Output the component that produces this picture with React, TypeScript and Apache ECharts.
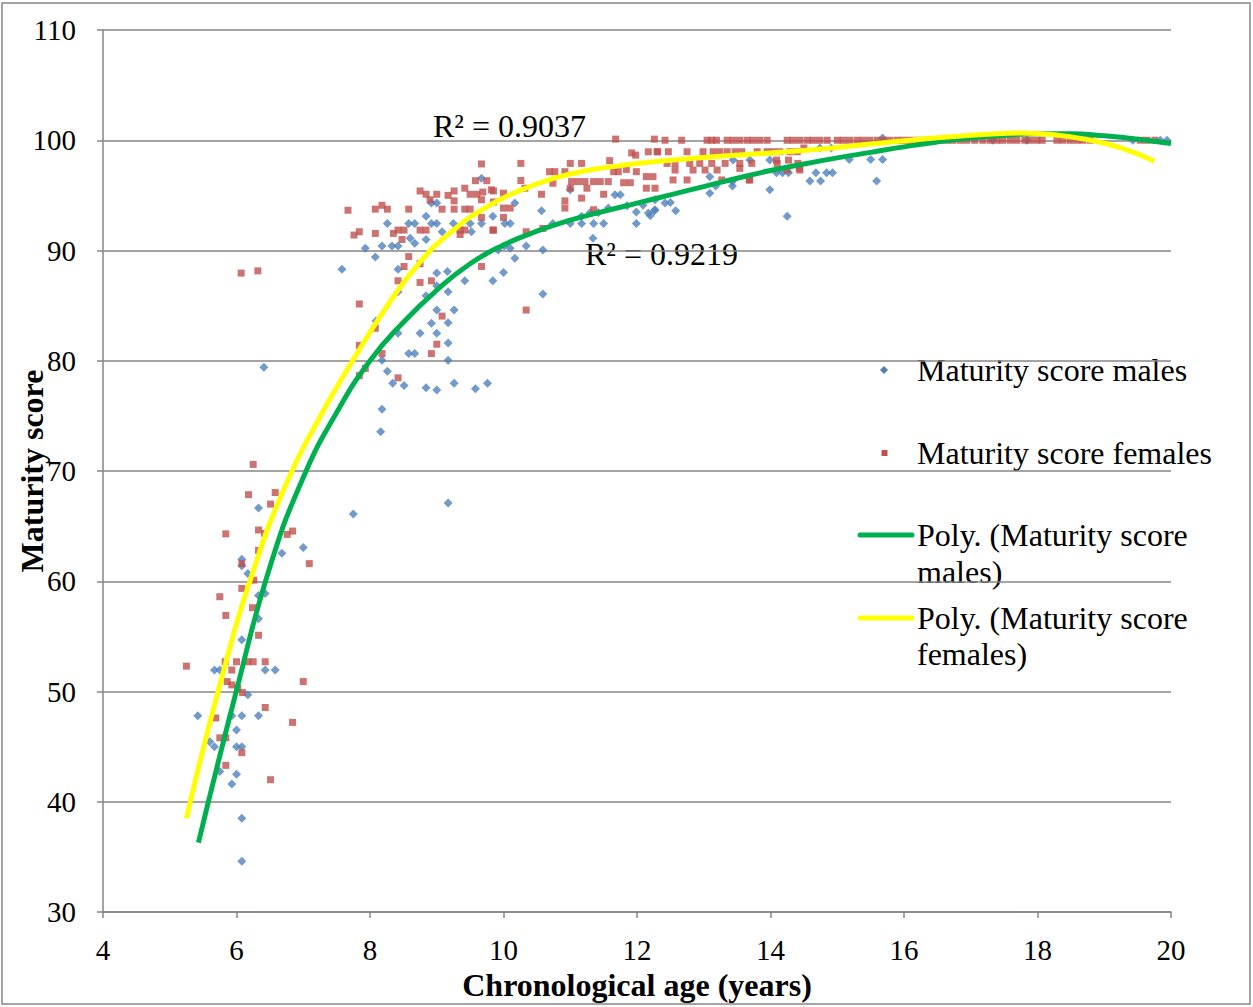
import React, { useEffect, useRef } from "react";
import * as echarts from "echarts";

// Maturity score males: [age, score]
const maleData: number[][] = [
  [6.33, 66.65], [7.0, 63.05], [6.68, 62.55], [6.08, 62.0], [6.08, 61.4], [6.17, 60.7], [6.33, 58.7], [6.43, 58.9],
  [6.33, 56.6], [6.08, 54.7], [5.67, 51.95], [5.75, 51.95], [6.43, 51.95], [6.58, 51.95], [6.17, 49.7], [5.42, 47.8],
  [5.93, 47.8], [6.08, 47.8], [6.33, 47.8], [6.0, 46.5], [5.6, 45.45], [5.67, 45.0], [6.0, 45.0], [6.08, 45.0],
  [5.75, 42.75], [6.0, 42.5], [5.93, 41.6], [6.08, 38.5], [6.08, 34.6], [6.41, 79.4],
  [9.67, 96.55], [9.0, 94.3], [8.92, 94.3], [8.84, 93.1], [8.26, 92.45], [8.58, 92.45], [8.67, 92.45], [8.92, 92.45],
  [9.0, 92.45], [9.25, 92.45], [9.5, 92.45], [9.67, 92.45], [9.84, 93.1], [9.08, 91.7], [9.52, 91.7], [8.6, 91.1],
  [8.84, 91.0], [8.67, 90.65], [7.93, 90.2], [8.18, 90.4], [8.33, 90.4], [8.42, 90.4], [8.08, 89.4], [7.58, 88.3],
  [8.42, 88.3], [9.0, 87.95], [9.16, 88.1], [8.42, 86.25], [8.84, 85.9], [9.0, 86.8], [9.17, 86.25], [9.42, 87.25],
  [9.84, 87.25], [8.09, 83.6], [9.0, 84.6], [9.26, 84.6], [8.92, 83.4], [9.17, 83.45], [8.42, 82.5], [8.75, 82.5],
  [9.0, 82.5], [9.17, 81.6], [8.58, 80.65], [8.67, 80.65], [8.18, 80.05], [9.17, 80.05], [8.26, 79.05], [8.34, 77.95],
  [8.51, 77.75], [8.84, 77.55], [9.0, 77.35], [9.26, 77.95], [9.58, 77.45], [9.76, 77.95], [8.18, 75.6], [8.16, 73.55],
  [7.75, 66.1], [9.17, 67.1],
  [10.17, 94.3], [10.57, 93.6], [11.0, 95.5], [11.67, 95.05], [11.75, 95.05], [11.85, 94.05], [11.99, 93.5], [12.09, 94.1],
  [12.17, 93.4], [12.27, 93.7], [12.27, 94.6], [11.17, 93.1], [11.3, 93.45], [11.42, 93.45], [11.57, 93.85], [12.2, 93.15],
  [10.02, 92.45], [10.1, 92.45], [10.74, 92.45], [11.0, 92.45], [11.17, 92.45], [11.35, 92.45], [11.5, 92.45], [11.99, 92.45],
  [11.34, 91.1], [9.92, 90.05], [10.1, 90.2], [10.34, 90.4], [10.17, 89.3], [10.59, 90.05], [10.0, 88.0], [10.59, 86.05],
  [10.01, 90.4],
  [12.42, 94.3], [12.5, 94.35], [12.58, 93.6], [12.26, 93.6], [13.09, 95.2], [13.18, 95.85], [13.43, 96.25], [13.43, 95.85],
  [13.09, 96.7], [13.99, 95.5], [14.09, 97.05], [14.18, 97.05], [14.27, 97.05], [14.25, 93.1], [14.59, 96.3], [14.68, 97.05],
  [14.75, 96.3], [14.84, 97.05], [14.93, 97.05], [15.18, 98.25], [15.5, 98.25], [15.68, 98.25], [15.59, 96.3], [15.68, 100.2],
  [13.44, 98.2], [13.69, 98.2], [13.99, 98.2], [14.74, 99.3], [14.91, 99.3],
  [17.33, 100], [17.84, 100], [19.43, 100], [19.84, 100], [19.94, 100],
];

// Maturity score females: [age, score]
const femaleData: number[][] = [
  [6.25, 70.6], [6.18, 67.85], [6.58, 68.05], [6.51, 67.0], [5.84, 64.3], [6.33, 64.65], [6.42, 64.35], [6.76, 64.25],
  [6.84, 64.55], [6.33, 62.8], [7.09, 61.6], [6.08, 61.6], [6.26, 60.1], [6.08, 59.35], [5.75, 58.6], [5.84, 56.9],
  [6.24, 57.6], [6.33, 55.1], [5.25, 52.3], [5.83, 52.7], [6.0, 52.7], [6.17, 52.7], [6.25, 52.7], [6.43, 52.7],
  [5.93, 51.95], [5.86, 50.9], [5.93, 50.6], [6.02, 50.3], [6.09, 49.9], [7.0, 50.9], [6.43, 48.55], [6.84, 47.2],
  [5.69, 47.6], [5.75, 45.8], [5.84, 45.8], [6.08, 44.45], [5.84, 43.3], [6.51, 42.0], [6.07, 87.95], [6.32, 88.15],
  [9.67, 97.85], [9.58, 96.33], [9.75, 96.33], [8.75, 95.4], [8.84, 95.1], [9.0, 95.1], [9.17, 95.0], [9.26, 95.4],
  [9.42, 95.65], [9.5, 95.1], [9.6, 95.1], [9.69, 95.3], [9.85, 95.4], [8.9, 94.6], [8.18, 94.1], [8.08, 93.75],
  [8.26, 93.75], [8.58, 93.75], [9.08, 93.75], [9.26, 94.5], [9.26, 93.75], [9.42, 93.75], [9.5, 93.75], [9.67, 94.6],
  [9.67, 93.0], [7.67, 93.65], [7.76, 91.4], [7.84, 91.7], [8.08, 91.55], [8.35, 91.55], [8.42, 91.85], [8.51, 91.85],
  [8.48, 91.0], [8.75, 91.85], [8.84, 91.85], [9.35, 91.45], [9.42, 91.85], [9.35, 91.85], [9.84, 91.85], [8.58, 89.45],
  [8.75, 88.8], [9.67, 88.55],
  [8.51, 88.55], [8.42, 87.25], [8.75, 87.1], [8.92, 87.25], [7.84, 85.15], [9.08, 84.05], [8.08, 82.95], [7.84, 81.4],
  [8.18, 80.65], [9.0, 81.5], [8.92, 80.65], [7.93, 79.3], [7.84, 78.65], [8.42, 78.45],
  [11.68, 100.1], [12.26, 100.1], [10.26, 97.9], [11.0, 97.9], [11.17, 97.9], [11.59, 98.15], [11.98, 98.65], [12.17, 98.95],
  [12.31, 98.95], [10.69, 97.15], [10.77, 97.15], [10.92, 97.15], [11.84, 97.35], [11.99, 97.15], [11.72, 97.15], [11.65, 97.15],
  [10.26, 96.35], [10.74, 96.1], [11.02, 96.25], [11.12, 96.25], [11.22, 96.25], [11.35, 96.25], [11.45, 96.25], [11.57, 96.25],
  [11.8, 96.15], [11.9, 96.15], [12.14, 96.7], [12.24, 96.7], [11.0, 95.65], [11.25, 95.65], [12.14, 95.65], [12.27, 95.65],
  [9.82, 95.5], [10.0, 95.2], [10.32, 95.65], [10.57, 95.1], [11.5, 95.1], [11.17, 94.75], [10.92, 94.5], [9.85, 94.4],
  [10.0, 93.85], [10.1, 93.85], [10.92, 93.85], [10.0, 93.0], [11.35, 93.7], [9.85, 91.85], [10.59, 92.0], [10.34, 91.7],
  [10.34, 84.6], [11.92, 98.85],
  [12.3, 98.96], [12.47, 98.96], [12.75, 98.96], [12.99, 98.96], [13.14, 98.96], [13.24, 98.96], [13.35, 98.96], [13.47, 98.96],
  [13.57, 98.96], [13.8, 98.96], [13.95, 98.96], [14.04, 98.96], [14.14, 98.96], [14.29, 98.96], [14.4, 98.96],
  [12.45, 97.9], [12.57, 97.9], [12.79, 97.9], [12.94, 97.9], [13.12, 97.9], [13.32, 97.9], [13.54, 97.9], [13.72, 97.9],
  [14.1, 97.9], [14.41, 97.9], [12.57, 97.3], [12.84, 97.3], [13.02, 97.3], [13.2, 97.3], [14.25, 97.3], [14.44, 97.3],
  [12.54, 96.4], [12.75, 96.4], [13.27, 96.4], [13.69, 96.4], [13.54, 97.45], [13.68, 96.4], [14.09, 98.2], [14.27, 98.2],
  [14.43, 97.45], [14.5, 99.3],
];

// Females scoring 100: ages
const femaleAt100: number[] = [
  12.42, 12.67, 13.05, 13.12, 13.19, 13.35, 13.44, 13.54, 13.65, 13.74, 13.84, 13.95, 14.25, 14.34, 14.44, 14.55,
  14.64, 14.74, 14.85, 15.0, 15.09, 15.19, 15.3, 15.39, 15.49, 15.6, 15.69, 15.79, 15.9, 15.99, 16.09, 16.21, 16.31,
  16.54, 16.64, 16.73, 16.84, 16.94, 17.06, 17.18, 17.29, 17.39, 17.48, 17.59, 17.69, 17.81, 17.89, 17.99, 18.07,
  18.29, 18.38, 18.49, 18.59, 18.68, 18.79, 19.54, 19.64, 19.76,
];

// Polynomial trend lines
const maleTrend: number[][] = [
  [5.43, 36.3], [6, 50.1], [6.5, 61.3], [7, 69.4], [7.5, 75.3], [8, 80.0], [8.5, 83.5], [9, 86.4], [9.5, 88.8],
  [10, 90.5], [10.5, 91.75], [11, 92.75], [11.5, 93.55], [12, 94.3], [12.5, 95.05], [13, 95.8], [13.5, 96.55],
  [14, 97.25], [14.5, 97.85], [15, 98.4], [15.5, 98.9], [16, 99.4], [16.5, 99.85], [17, 100.2], [17.5, 100.45],
  [18, 100.6], [18.5, 100.6], [19, 100.4], [19.5, 100.1], [20, 99.7],
];
const femaleTrend: number[][] = [
  [5.25, 38.5], [5.75, 50.6], [6.25, 60.9], [6.75, 68.9], [7.25, 74.9], [7.75, 80.1], [8.25, 84.9], [8.75, 88.95],
  [9.25, 91.85], [9.75, 93.95], [10.25, 95.45], [10.75, 96.55], [11.25, 97.25], [11.75, 97.7], [12.25, 98.05],
  [12.75, 98.3], [13.25, 98.55], [13.75, 98.75], [14.25, 98.95], [14.75, 99.2], [15.25, 99.5], [15.75, 99.8],
  [16.25, 100.1], [16.75, 100.35], [17.25, 100.55], [17.75, 100.65], [18.25, 100.5], [18.75, 100.05], [19.25, 99.3],
  [19.75, 98.1],
];

const xTicks = { min: 4, max: 20, interval: 2 };
const yTicks = { min: 30, max: 110, interval: 10 };

const FONT = '"Liberation Serif", "Times New Roman", serif';
const GRAY = "#868686";
const TXT = 32;

export default function App() {
  const ref = useRef<HTMLDivElement>(null);
  useEffect(() => {
    document.body.style.margin = "0";
    if (!ref.current) return;
    const chart = echarts.init(ref.current, null, { renderer: "svg" });
    const females = femaleData.concat(femaleAt100.map((x) => [x, 100]));
    const txt = (x: number, y: number, text: string) => ({
      type: "text",
      x,
      y,
      style: { text, font: `${TXT}px ${FONT}`, fill: "#000", textVerticalAlign: "middle" },
    });
    chart.setOption({
      animation: false,
      backgroundColor: "#ffffff",
      textStyle: { fontFamily: FONT },
      grid: { left: 103, right: 82, top: 30, bottom: 95, containLabel: false, outerBoundsMode: "none" },
      xAxis: {
        type: "value",
        min: xTicks.min,
        max: xTicks.max,
        interval: xTicks.interval,
        axisLine: { show: true, onZero: false, lineStyle: { color: GRAY, width: 1.5 } },
        axisTick: { show: true, length: 6, lineStyle: { color: GRAY, width: 1.5 } },
        axisLabel: { color: "#000", fontSize: 29, margin: 23, fontFamily: FONT },
        splitLine: { show: false },
        name: "Chronological age (years)",
        nameLocation: "middle",
        nameGap: 57,
        nameMoveOverlap: false,
        nameTextStyle: { color: "#000", fontSize: TXT, fontWeight: "bold", fontFamily: FONT },
      },
      yAxis: {
        type: "value",
        min: yTicks.min,
        max: yTicks.max,
        interval: yTicks.interval,
        axisLine: { show: true, lineStyle: { color: GRAY, width: 1.5 } },
        axisTick: { show: true, length: 6, lineStyle: { color: GRAY, width: 1.5 } },
        axisLabel: { color: "#000", fontSize: 29, margin: 27, fontFamily: FONT },
        splitLine: { show: true, lineStyle: { color: GRAY, width: 1.5 } },
        name: "Maturity score",
        nameLocation: "middle",
        nameGap: 55,
        nameRotate: 90,
        nameMoveOverlap: false,
        nameTextStyle: { color: "#000", fontSize: TXT, fontWeight: "bold", fontFamily: FONT },
      },
      series: [
        {
          type: "scatter",
          name: "Maturity score males",
          data: maleData,
          symbol: "diamond",
          symbolSize: 9,
          itemStyle: { color: "#4F81BD" },
        },
        {
          type: "scatter",
          name: "Maturity score females",
          data: females,
          symbol: "rect",
          symbolSize: 7,
          itemStyle: { color: "#C0504D" },
        },
        {
          type: "line",
          name: "Poly. (Maturity score males)",
          data: maleTrend,
          smooth: 0.5,
          symbol: "none",
          lineStyle: { color: "#00B050", width: 5 },
        },
        {
          type: "line",
          name: "Poly. (Maturity score females)",
          data: femaleTrend,
          smooth: 0.5,
          symbol: "none",
          lineStyle: { color: "#FFFF00", width: 5 },
        },
      ],
      graphic: [
        {
          type: "rect",
          shape: { x: 2, y: 3, width: 1248, height: 1001 },
          style: { fill: "none", stroke: GRAY, lineWidth: 1.5 },
          silent: true,
        },
        txt(433, 126, "R² = 0.9037"),
        txt(585, 254, "R² = 0.9219"),
        {
          type: "polygon",
          shape: { points: [[884, 366], [888, 370], [884, 374], [880, 370]] },
          style: { fill: "#4F81BD" },
        },
        txt(917, 370, "Maturity score males"),
        {
          type: "rect",
          shape: { x: 881.5, y: 450, width: 6, height: 6 },
          style: { fill: "#C0504D" },
        },
        txt(917, 453, "Maturity score females"),
        {
          type: "line",
          shape: { x1: 860, y1: 535, x2: 912, y2: 535 },
          style: { stroke: "#00B050", lineWidth: 5, lineCap: "round" },
        },
        txt(917, 535, "Poly. (Maturity score"),
        txt(917, 572, "males)"),
        {
          type: "line",
          shape: { x1: 860, y1: 618, x2: 912, y2: 618 },
          style: { stroke: "#FFFF00", lineWidth: 5, lineCap: "round" },
        },
        txt(917, 618, "Poly. (Maturity score"),
        txt(917, 654, "females)"),
      ],
    });
    return () => chart.dispose();
  }, []);
  return <div ref={ref} style={{ width: 1253, height: 1007 }} />;
}
